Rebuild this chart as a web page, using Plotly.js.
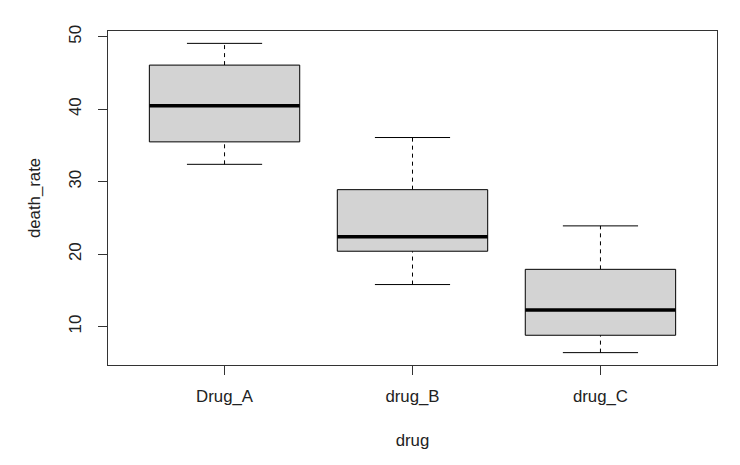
<!DOCTYPE html>
<html>
<head>
<meta charset="utf-8">
<script src="https://cdn.plot.ly/plotly-3.0.1.min.js"></script>
<style>
html,body{margin:0;padding:0;background:#fff;}
#chart{width:740px;height:465px;}
</style>
</head>
<body>
<div id="chart"></div>
<script>
// Data
const categories = ['Drug_A', 'drug_B', 'drug_C'];
const lowerWhisker = [32.4, 15.8, 6.4];
const q1 = [35.5, 20.4, 8.8];
const median = [40.5, 22.4, 12.3];
const q3 = [46.1, 28.9, 17.9];
const upperWhisker = [49.1, 36.1, 23.9];
const yTicks = [10, 20, 30, 40, 50];

// style constants
const boxHalf = 0.4;
const capHalf = 0.2;
const positions = categories.map((c, i) => i + 1);

const traces = [];
positions.forEach((p, i) => {
  // whiskers (dashed)
  traces.push({
    type: 'scatter', mode: 'lines', hoverinfo: 'skip', showlegend: false,
    x: [p, p, null, p, p],
    y: [q3[i], upperWhisker[i], null, lowerWhisker[i], q1[i]],
    line: {color: '#000', width: 1, dash: '4px,4px'}
  });
  // caps
  traces.push({
    type: 'scatter', mode: 'lines', hoverinfo: 'skip', showlegend: false,
    x: [p - capHalf, p + capHalf, null, p - capHalf, p + capHalf],
    y: [upperWhisker[i], upperWhisker[i], null, lowerWhisker[i], lowerWhisker[i]],
    line: {color: '#000', width: 1}
  });
  // box
  traces.push({
    type: 'scatter', mode: 'lines', hoverinfo: 'skip', showlegend: false,
    x: [p - boxHalf, p + boxHalf, p + boxHalf, p - boxHalf, p - boxHalf],
    y: [q1[i], q1[i], q3[i], q3[i], q1[i]],
    fill: 'toself', fillcolor: '#d3d3d3',
    line: {color: '#000', width: 1}
  });
  // median
  traces.push({
    type: 'scatter', mode: 'lines', hoverinfo: 'skip', showlegend: false,
    x: [p - boxHalf, p + boxHalf],
    y: [median[i], median[i]],
    line: {color: '#000', width: 3.5}
  });
});

const yMin = Math.min(...lowerWhisker), yMax = Math.max(...upperWhisker);
const pad = 0.04 * (yMax - yMin);
const n = categories.length;
const xpad = 0.04 * n;

const fontFam = 'Liberation Sans, Arial, sans-serif';
const layout = {
  width: 740, height: 465,
  margin: {l: 108, r: 23, t: 31, b: 100},
  paper_bgcolor: '#fff', plot_bgcolor: '#fff',
  font: {family: fontFam, size: 16.8, color: '#222'},
  showlegend: false,
  xaxis: {
    range: [0.5 - xpad, n + 0.5 + xpad],
    tickmode: 'array', tickvals: positions, ticktext: categories,
    ticks: 'outside', ticklen: 9, tickwidth: 1, tickcolor: '#333',
    showgrid: false, zeroline: false,
    showline: true, linecolor: '#333', linewidth: 1, mirror: true,
    ticklabelstandoff: 7,
    title: {text: 'drug', font: {family: fontFam, size: 16.8, color: '#222'}, standoff: 29}
  },
  yaxis: {
    range: [yMin - pad, yMax + pad],
    tickmode: 'array', tickvals: yTicks,
    tickangle: -90,
    ticks: 'outside', ticklen: 9, tickwidth: 1, tickcolor: '#333',
    showgrid: false, zeroline: false,
    showline: true, linecolor: '#333', linewidth: 1, mirror: true,
    ticklabelstandoff: 10,
    title: {text: 'death_rate', font: {family: fontFam, size: 16.8, color: '#222'}, standoff: 21}
  }
};

Plotly.newPlot('chart', traces, layout, {displayModeBar: false, staticPlot: true});
</script>
</body>
</html>
